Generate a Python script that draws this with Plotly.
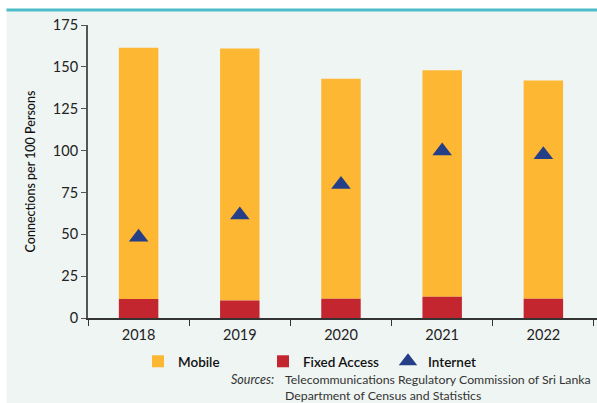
import plotly.graph_objects as go

# Connections per 100 persons, Sri Lanka
years = ["2018", "2019", "2020", "2021", "2022"]
fixed_access = [11.4, 10.5, 11.5, 12.7, 11.5]
mobile = [150.0, 150.5, 131.4, 135.2, 130.4]
internet = [48.3, 61.5, 79.7, 99.8, 97.5]
y_ticks = [0, 25, 50, 75, 100, 125, 150, 175]

W, H = 597, 403
ML, MR, MT, MB = 88, 0, 25, 85
PW, PH = W - ML - MR, H - MT - MB

PANEL = "#EFF5F3"
FONT = "Lato"


def px_x(p):
    return (p - ML) / PW


def px_y(p):
    return (H - MB - p) / PH


fig = go.Figure()
fig.add_trace(go.Bar(x=years, y=mobile, base=fixed_access, name="Mobile",
                     marker=dict(color="#FDB733", line=dict(width=0))))
fig.add_trace(go.Bar(x=years, y=fixed_access, name="Fixed Access",
                     marker=dict(color="#C4262F", line=dict(width=0))))
fig.add_trace(go.Scatter(x=years, y=internet, name="Internet", mode="markers",
                         marker=dict(symbol="triangle-up", size=17, color="#243F87")))

fig.update_layout(
    width=W, height=H,
    margin=dict(l=ML, r=MR, t=MT, b=MB, autoexpand=False),
    paper_bgcolor=PANEL, plot_bgcolor=PANEL,
    barmode="overlay", bargap=0.61,
    font=dict(family=FONT, size=14, color="#222222"),
    showlegend=True,
    legend=dict(orientation="h", xref="container", yref="container",
                x=138 / W, xanchor="left", y=1 - 346 / H, yanchor="top",
                font=dict(family=FONT, size=13.5, color="#111111", weight=600),
                bgcolor="rgba(0,0,0,0)", entrywidth=80, entrywidthmode="pixels",
                traceorder="normal"),
    xaxis=dict(type="category", range=[-0.5, 4.53], tickson="boundaries",
               ticks="outside", ticklen=6, tickcolor="#333333", ticklabelstandoff=3,
               showline=True, linecolor="#333333", linewidth=1.5, showgrid=False,
               tickfont=dict(size=14.5, color="#222222")),
    yaxis=dict(range=[0, 175], tickvals=y_ticks, ticks="outside", ticklen=5,
               tickcolor="#555555", showline=True, linecolor="#555555", linewidth=2,
               showgrid=False, zeroline=False, tickfont=dict(size=14.5, color="#222222"),
               title=dict(text="Connections per 100 Persons", standoff=14,
                          font=dict(size=12.5, color="#111111", weight=500))),
    shapes=[
        dict(type="rect", xref="paper", yref="paper", x0=px_x(0), x1=px_x(6.5),
             y0=px_y(H), y1=px_y(0), fillcolor="white", line=dict(width=0), layer="below"),
        dict(type="rect", xref="paper", yref="paper", x0=px_x(0), x1=px_x(W),
             y0=px_y(9), y1=px_y(0), fillcolor="white", line=dict(width=0), layer="below"),
        dict(type="line", xref="paper", yref="paper", x0=px_x(6.5), x1=px_x(W),
             y0=px_y(10), y1=px_y(10), line=dict(color="#4DBCC9", width=3)),
    ],
    annotations=[
        dict(text="<i>Sources:</i>", xref="paper", yref="paper", x=px_x(276), y=px_y(379),
             xanchor="right", yanchor="middle", showarrow=False,
             font=dict(size=12.5, color="#333333")),
        dict(text="Telecommunications Regulatory Commission of Sri Lanka<br>Department of Census and Statistics",
             xref="paper", yref="paper", x=px_x(283), y=px_y(370), xanchor="left", yanchor="top",
             align="left", showarrow=False, font=dict(size=12.3, color="#333333")),
    ],
)

fig.write_html("out.html")
